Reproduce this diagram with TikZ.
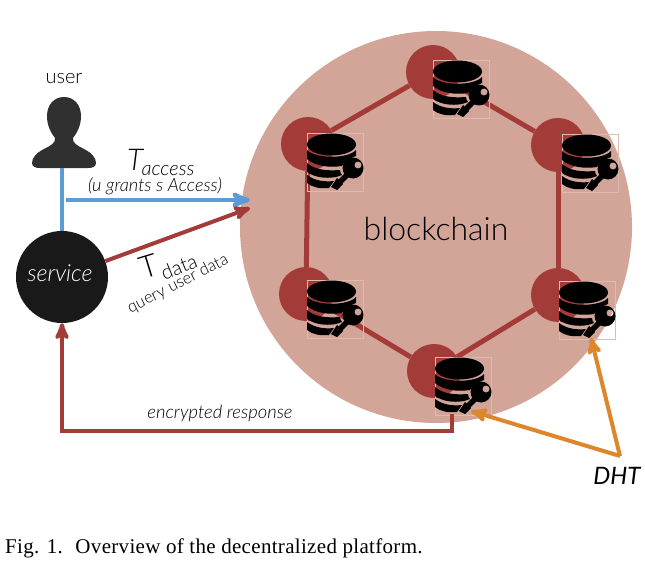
\documentclass[tikz,border=0pt]{standalone}
\usepackage{fontspec}
\setmainfont{Lato Light}[ItalicFont={Lato Light Italic}]
\newfontfamily\dhtfont[ItalicFont={Lato Italic}]{Lato}
\newfontfamily\captionfont[LetterSpace=1.5]{Liberation Serif}
\usetikzlibrary{shapes,arrows}
\definecolor{chain_pink}{RGB}{210,165,152}
\definecolor{chain_red}{RGB}{163,60,56}
\definecolor{line_blue}{RGB}{92,155,211}
\definecolor{line_orange}{RGB}{221,134,44}
\definecolor{dark_grey}{RGB}{48,48,48}
\tikzset{
  db_key/.pic={
    % frame round the icon
    \draw [draw=chain_pink!75!white, line width=0.4pt] (0,0) rectangle (56,58);
    % disks
    \fill [black] (24.5,11.5) ellipse [x radius=24.5, y radius=11];
    \fill [black] (0,17) .. controls (8,26) and (41,26) .. (49,17)
      -- (49,23) .. controls (44,25) and (37,28) .. (35,33)
      .. controls (22,35) and (8,33) .. (0,26) -- cycle;
    \fill [black] (0,30) .. controls (8,37) and (20,38) .. (33,37)
      .. controls (33,39) and (34,41) .. (35,42) -- (29,44)
      .. controls (18,46) and (7,44) .. (0,39) -- cycle;
    \fill [black] (0,42) .. controls (8,48) and (18,49) .. (27,48)
      -- (22,55) .. controls (12,56) and (5,54) .. (0,50) -- cycle;
    % key
    \fill [black, even odd rule] (46,35) circle (10.5) (51,32) circle (3.6);
    \draw [black, line width=5.5pt] (41,41) -- (30,52);
    \fill [black] (24,54) -- (30,45) -- (36,51) -- (30,57) -- cycle;
  }
}
\begin{document}
\begin{tikzpicture}[x=1pt, y=-1pt,
    block_chain/.style ={circle, fill=chain_pink, minimum size=392pt, inner sep=0pt},
    block_peer/.style ={circle, fill=chain_red, minimum size=54pt, inner sep=0pt},
    block_service/.style ={circle, fill=black!90, text=white, minimum size=92pt, inner sep=0pt},
    block_label/.style ={inner sep=0pt},
    link/.style ={draw=chain_red, line width=5pt},
    line_b/.style ={draw=line_blue, line width=4.5pt},
    line_r/.style ={draw=chain_red, line width=4pt, -stealth'},
    line_o/.style ={draw=line_orange, line width=4pt, -stealth'}]
    \useasboundingbox (0,0) rectangle (645,575);
    \fill [white] (0,0) rectangle (645,575);
    % big circle and peers
    \node [block_chain] (chain) at (436,227) {};
    \node [block_peer] (peer_top) at (433,72) {};
    \node [block_peer] (peer_upleft) at (308,144) {};
    \node [block_peer] (peer_upright) at (558,145) {};
    \node [block_peer] (peer_lowleft) at (306,294) {};
    \node [block_peer] (peer_lowright) at (558,295) {};
    \node [block_peer] (peer_bottom) at (434,371) {};
    % connecting peers
    \begin{scope}[every path/.style=link]
      \path (peer_top) -- (peer_upleft);
      \path (peer_upleft) -- (peer_lowleft);
      \path (peer_lowleft) -- (peer_bottom);
      \path (peer_bottom) -- (peer_lowright);
      \path (peer_lowright) -- (peer_upright);
      \path (peer_upright) -- (peer_top);
    \end{scope}
    % icons on the peers
    \pic at (433,60) {db_key};
    \pic at (307,133) {db_key};
    \pic at (562,134) {db_key};
    \pic at (307,280) {db_key};
    \pic at (559,281) {db_key};
    \pic at (435,357) {db_key};
    % user
    \node [block_label, font=\fontsize{20}{20}\selectfont] (user_text) at (64,79) {user};
    \fill [dark_grey] (64,97) .. controls (74,97) and (81,105) .. (81,116)
      .. controls (81,127) and (76,134) .. (73,138) .. controls (72,143) and (78,146) .. (84,149)
      .. controls (92,153) and (96,158) .. (96,163) .. controls (96,167) and (92,168) .. (88,168)
      -- (40,168) .. controls (36,168) and (32,167) .. (32,163) .. controls (32,158) and (36,153) .. (44,149)
      .. controls (50,146) and (56,143) .. (55,138) .. controls (52,134) and (47,127) .. (47,116)
      .. controls (47,105) and (54,97) .. (64,97) -- cycle;
    \coordinate (user) at (62,168);
    \node [block_service] (service) at (62,277) {};
    \node [block_label, text=white, font=\fontsize{23.5}{24}\selectfont\itshape] (service_text) at (60,273) {service};
    \coordinate (chain_in) at (250,200);
    \coordinate (split) at (66,200);
    \coordinate (chain_data) at (250,208);
    \coordinate (db_out) at (452,414);
    \coordinate (corner) at (452,431);
    \coordinate (db_in) at (471,411);
    \coordinate (db_right) at (591,338);
    % connecting nodes with paths
    \draw [line_b] (user) -- (service);
    \draw [line_b, -stealth'] (split) -- (chain_in);
    \draw [line_r] (service) -- (chain_data);
    \draw [line_r] (db_out) -- (corner) -| (service);
    % labels
    \node [block_label, font=\fontsize{30}{30}\selectfont\itshape] (t_access) at (135,160) {T};
    \node [block_label, font=\fontsize{20}{20}\selectfont\itshape] (access_text) at (168,171) {access};
    \node [block_label, font=\fontsize{18.2}{18}\selectfont\itshape] (grants_text) at (155,186) {(u grants s Access)};
    \node [block_label, font=\fontsize{31}{31}\selectfont, rotate=17] (t_data) at (149,266) {T};
    \node [block_label, font=\fontsize{20}{20}\selectfont, rotate=22] (data_text) at (179,267) {data};
    \node [block_label, font=\fontsize{16.5}{17}\selectfont, rotate=27] (query_text) at (178,284) {query user data};
    \node [block_label, font=\fontsize{32}{32}\selectfont] (blockchain) at (436,229) {blockchain};
    \node [block_label, font=\fontsize{18.4}{18}\selectfont\itshape] (response_text) at (220,413) {encrypted response};
    \node [block_label, font=\dhtfont\fontsize{24}{24}\selectfont\itshape] (dht) at (617,476) {DHT};
    \coordinate (dht_top) at (620,456);
    \draw [line_o] (dht_top) -- (db_right);
    \draw [line_o] (dht_top) -- (db_in);
    \node [block_label, anchor=west, font=\captionfont\fontsize{21}{21}\selectfont] (caption) at (5,548)
      {Fig. 1.\hspace{0.6em}Overview of the decentralized platform.};
\end{tikzpicture}
\end{document}
